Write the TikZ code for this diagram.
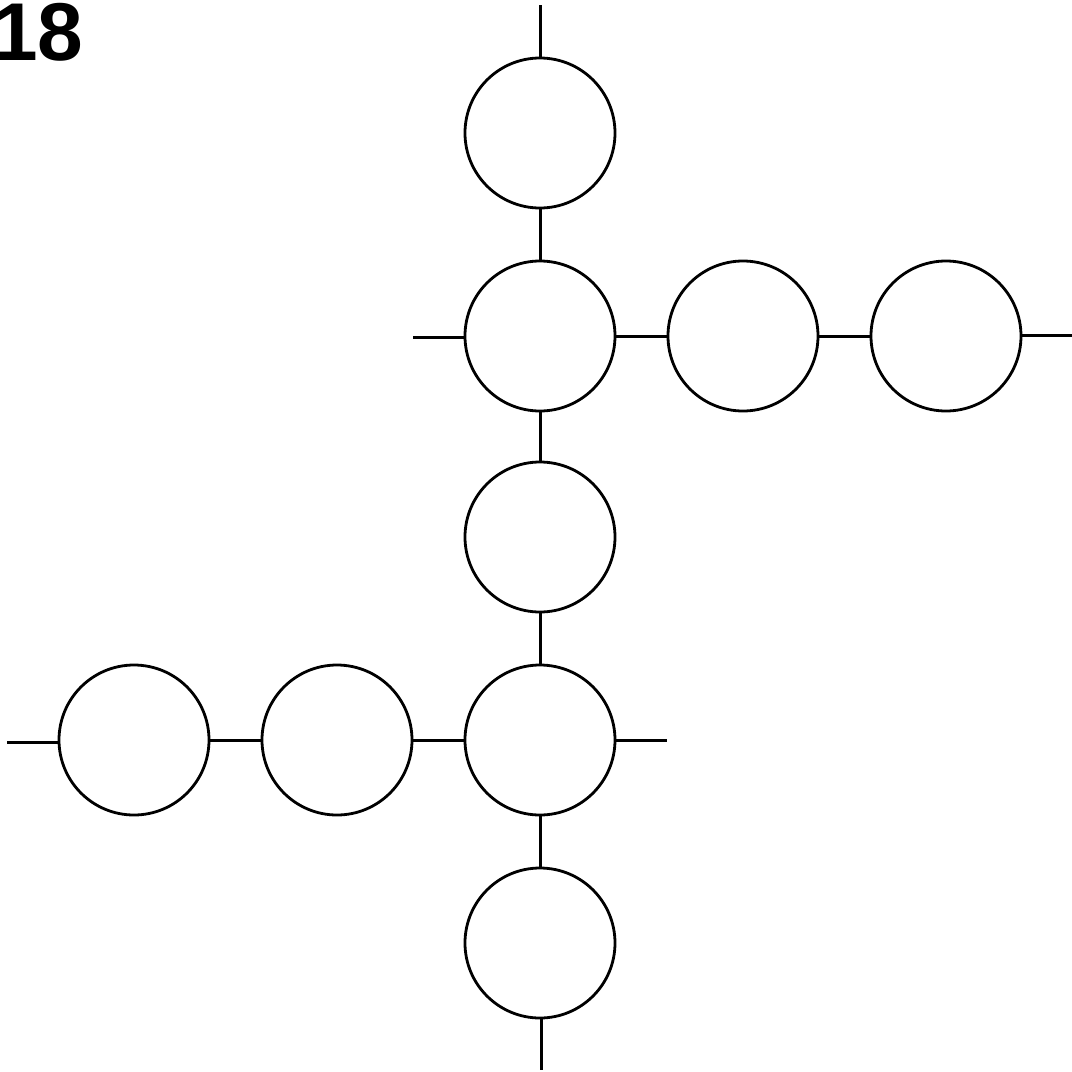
\documentclass[tikz,border=0pt]{standalone}
\usepackage{fontspec}
\setmainfont{Liberation Sans}
\begin{document}
\begin{tikzpicture}[x=1pt,y=-1pt,
  ring/.style={draw=black,line width=2.8pt,circle,minimum size=150pt,inner sep=0pt},
  wire/.style={draw=black,line width=3pt}]
\useasboundingbox (0,0) rectangle (1072,1072);
\node[anchor=base west,inner sep=0pt,font=\bfseries\fontsize{82}{82}\selectfont] (lbl) at (-8,60) {18};
\node[ring] (a) at (540,133) {};
\node[ring] (b) at (540,336) {};
\node[ring] (c) at (743,336) {};
\node[ring] (d) at (946,336) {};
\node[ring] (e) at (540,537) {};
\node[ring] (f) at (540,740) {};
\node[ring] (g) at (337,740) {};
\node[ring] (h) at (134,740) {};
\node[ring] (i) at (540,943) {};
\coordinate (t1) at (540,5);
\coordinate (t2) at (413,337);
\coordinate (t3) at (1072,335);
\coordinate (t4) at (667,740);
\coordinate (t5) at (7,742);
\coordinate (t6) at (541,1070);
\draw[wire] (t1) -- (a.north);
\draw[wire] (a) -- (b);
\draw[wire] (t2) -- (t2 -| b.west);
\draw[wire] (b) -- (c);
\draw[wire] (c) -- (d);
\draw[wire] (t3 -| d.east) -- (t3);
\draw[wire] (b) -- (e);
\draw[wire] (e) -- (f);
\draw[wire] (f.east) -- (t4);
\draw[wire] (f) -- (g);
\draw[wire] (g) -- (h);
\draw[wire] (t5) -- (t5 -| h.west);
\draw[wire] (f) -- (i);
\draw[wire] (i.south -| t6) -- (t6);
\end{tikzpicture}
\end{document}
